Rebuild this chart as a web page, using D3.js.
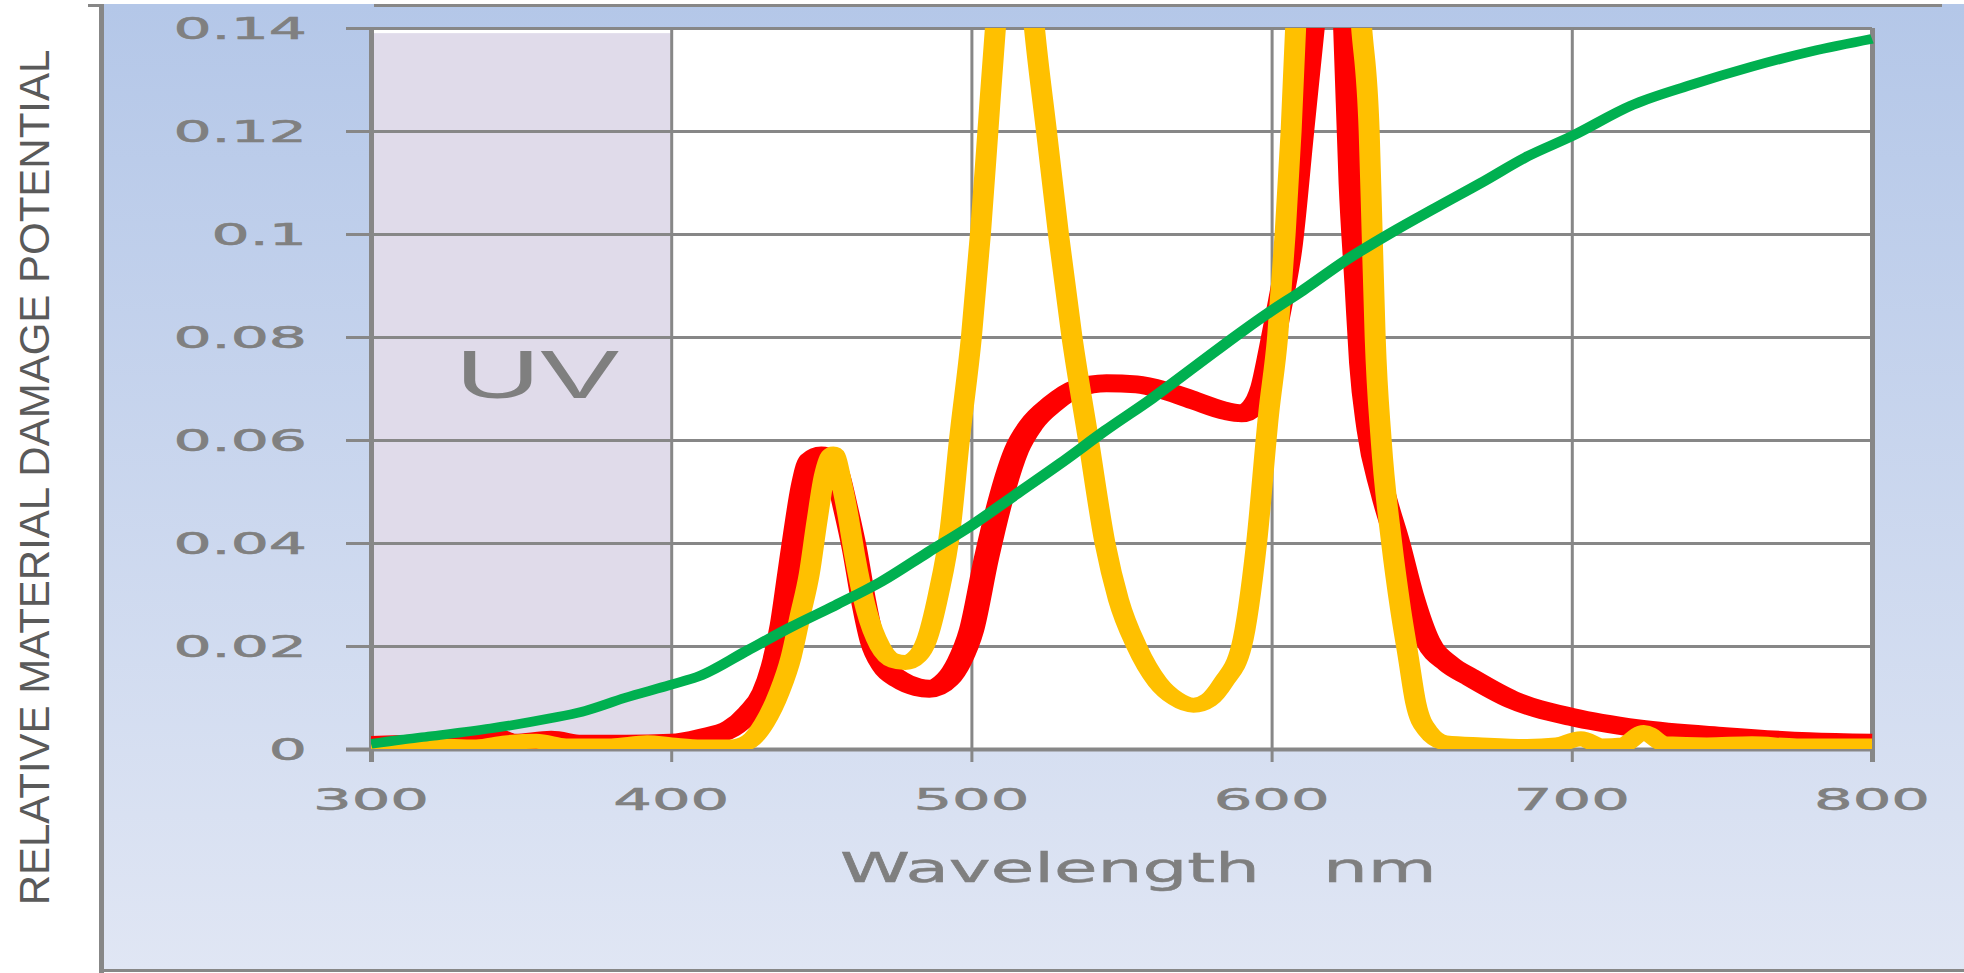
<!DOCTYPE html>
<html>
<head>
<meta charset="utf-8">
<script src="https://cdn.jsdelivr.net/npm/d3@7"></script>
<style>
  html, body { margin: 0; padding: 0; background: #ffffff; }
  svg { display: block; }
</style>
</head>
<body>
<svg id="chart"></svg>
<script>
/* CONSTANTS AND GLOBALS */
const width = 1964,
  height = 973,
  margin = { top: 28, bottom: 224, left: 371, right: 92 };
const plotW = width - margin.left - margin.right,
  plotH = height - margin.top - margin.bottom;

// the source picture is stretched sideways, so text and strokes get an x scale
const textStretch = 1.96,
  lineStretch = 1.4;

//////////////
/// DATA  ///
//////////////

const xTicks = [300, 400, 500, 600, 700, 800];
const yTicks = [0, 0.02, 0.04, 0.06, 0.08, 0.1, 0.12, 0.14];
const yTickLabels = ["0", "0.02", "0.04", "0.06", "0.08", "0.1", "0.12", "0.14"];
const uvBand = [300, 400];
const uvTop = 0.139;
const yTitle = "RELATIVE MATERIAL DAMAGE POTENTIAL";
const xTitle = ["Wavelength", "nm"];

// [wavelength nm, relative damage]
const redCurve = [
  [300, 0.0008], [315, 0.001], [330, 0.0012], [340, 0.0025], [348, 0.0012], [360, 0.0018],
  [370, 0.001], [385, 0.001], [400, 0.0012], [410, 0.0022], [420, 0.004], [426, 0.007],
  [431, 0.011], [434, 0.016], [437, 0.024], [439.5, 0.034], [441.5, 0.042], [444, 0.051],
  [446.5, 0.056], [450, 0.057], [453, 0.0565], [455.5, 0.053], [458, 0.047], [461, 0.039],
  [464, 0.029], [467, 0.021], [471, 0.016], [476, 0.0135], [482, 0.012], [486, 0.0117],
  [492, 0.0135], [496, 0.017], [500, 0.023], [505, 0.037], [510, 0.049], [515, 0.058],
  [520, 0.063], [527, 0.067], [535, 0.07], [545, 0.071], [555, 0.0708], [565, 0.0695],
  [575, 0.0675], [585, 0.0656], [590, 0.0652], [594, 0.0665], [597, 0.07], [600, 0.078],
  [603, 0.087], [606, 0.097], [610, 0.12], [613.5, 0.14], [620, 0.175], [624.7, 0.14],
  [626.5, 0.11], [628.5, 0.09], [630, 0.075], [632.5, 0.062], [637, 0.05], [642, 0.04],
  [646.5, 0.03], [652, 0.021], [659, 0.0165], [666, 0.014], [680, 0.0096], [700, 0.0062],
  [722, 0.004], [751, 0.0025], [779, 0.0015], [800, 0.0012]
];

const yellowCurve = [
  [300, 0.0004], [320, 0.0006], [335, 0.0004], [345, 0.0012], [355, 0.0015], [365, 0.0006],
  [380, 0.0006], [392, 0.0012], [400, 0.0008], [410, 0.0004], [420, 0.0004], [426, 0.0015],
  [431, 0.005], [436, 0.011], [440, 0.018], [443, 0.026], [446, 0.034], [448.5, 0.044],
  [451, 0.053], [454, 0.0573], [457, 0.051], [459, 0.045], [461, 0.038], [465, 0.027],
  [469.5, 0.02], [474, 0.0172], [478, 0.0168], [482, 0.018], [485, 0.021], [489, 0.03],
  [493, 0.043], [496, 0.06], [500, 0.08], [503, 0.1], [505.5, 0.12], [508, 0.14],
  [512, 0.16], [515, 0.165], [518, 0.16], [521, 0.14], [525, 0.12], [529, 0.1],
  [533.5, 0.08], [539, 0.06], [544.5, 0.04], [549, 0.029], [555, 0.02], [562, 0.013],
  [568, 0.0098], [574, 0.0085], [579, 0.0095], [584, 0.013], [590, 0.02], [595, 0.04],
  [599, 0.065], [602, 0.08], [604.5, 0.1], [606.5, 0.12], [608, 0.14], [614, 0.175],
  [619, 0.185], [625, 0.175], [630, 0.14], [632.5, 0.12], [633.5, 0.1], [634.5, 0.08],
  [636.5, 0.06], [640, 0.04], [643, 0.027], [645.5, 0.018], [648, 0.009], [652, 0.0035],
  [658, 0.0012], [670, 0.0008], [685, 0.0005], [695, 0.0008], [703, 0.002], [710, 0.0006],
  [717, 0.0008], [724, 0.0032], [731, 0.001], [745, 0.0008], [760, 0.001], [775, 0.0006],
  [800, 0.0006]
];

const greenCurve = [
  [300, 0.001], [310, 0.0018], [320, 0.0025], [340, 0.004], [360, 0.006], [370, 0.0072],
  [385, 0.01], [400, 0.0125], [410, 0.0143], [425, 0.019], [440, 0.0237], [455, 0.028],
  [470, 0.0325], [485, 0.038], [500, 0.0434], [515, 0.0495], [530, 0.0556], [545, 0.062],
  [560, 0.068], [575, 0.0745], [590, 0.081], [600, 0.0851], [610, 0.0889], [625, 0.095],
  [640, 0.1003], [655, 0.1052], [670, 0.11], [685, 0.115], [700, 0.119], [720, 0.125],
  [740, 0.129], [760, 0.1325], [780, 0.1355], [800, 0.1379]
];

// drawing order: red under yellow, green on top
const series = [
  { name: "red", values: redCurve, color: "#ff0000", stroke: 18 },
  { name: "yellow", values: yellowCurve, color: "#ffc000", stroke: 15 },
  { name: "green", values: greenCurve, color: "#00b050", stroke: 9.5 }
];

/////////////
/// SVG  ///
/////////////

const svg = d3.select("#chart")
  .attr("width", width)
  .attr("height", height);

const x = d3.scaleLinear()
  .domain([300, 800])
  .range([margin.left, width - margin.right]);

// same x scale but in the stretched line group's units
const xLine = d3.scaleLinear()
  .domain([300, 800])
  .range([0, plotW / lineStretch]);

const y = d3.scaleLinear()
  .domain([0, 0.14])
  .range([height - margin.bottom, margin.top]);

const defs = svg.append("defs");

// blue chart-area fill, darker at the top
const grad = defs.append("linearGradient")
  .attr("id", "bg")
  .attr("x1", 0).attr("y1", 0)
  .attr("x2", 0).attr("y2", 1);
grad.append("stop").attr("offset", "0%").attr("stop-color", "#b4c7e8");
grad.append("stop").attr("offset", "100%").attr("stop-color", "#e0e6f4");

defs.append("clipPath")
  .attr("id", "plot-clip")
  .append("rect")
  .attr("x", margin.left)
  .attr("y", margin.top)
  .attr("width", plotW + 3)
  .attr("height", plotH);

// chart area + frame
svg.append("rect")
  .attr("x", 101)
  .attr("y", 4)
  .attr("width", width - 101)
  .attr("height", 966)
  .attr("fill", "url(#bg)");

const frameColor = "#878787";
svg.append("line") // left
  .attr("x1", 101.5).attr("x2", 101.5)
  .attr("y1", 4).attr("y2", height)
  .attr("stroke", frameColor).attr("stroke-width", 5);
svg.append("line") // bottom
  .attr("x1", 99).attr("x2", width)
  .attr("y1", 970.5).attr("y2", 970.5)
  .attr("stroke", frameColor).attr("stroke-width", 3);
svg.append("line") // little bit of the top edge at the corner
  .attr("x1", 88).attr("x2", 104)
  .attr("y1", 5.5).attr("y2", 5.5)
  .attr("stroke", frameColor).attr("stroke-width", 3);
svg.append("line") // top edge
  .attr("x1", 374).attr("x2", 1942)
  .attr("y1", 5.5).attr("y2", 5.5)
  .attr("stroke", frameColor).attr("stroke-width", 3);

// plot background
svg.append("rect")
  .attr("x", margin.left)
  .attr("y", margin.top)
  .attr("width", plotW)
  .attr("height", plotH)
  .attr("fill", "#ffffff");

// UV band
svg.append("rect")
  .attr("x", x(uvBand[0]) + 2)
  .attr("y", y(uvTop))
  .attr("width", x(uvBand[1]) - x(uvBand[0]) - 2)
  .attr("height", y(0) - y(uvTop))
  .attr("fill", "#e0dbea");

svg.append("text")
  .attr("transform", `translate(${(x(uvBand[0]) + x(uvBand[1])) / 2 + 16},398) scale(1.74,1)`)
  .attr("text-anchor", "middle")
  .attr("font-family", "'Liberation Sans', Arial, sans-serif")
  .attr("font-size", 68)
  .attr("fill", "#7f7f7f")
  .text("UV");

/////////////////
/// GRIDLINES ///
/////////////////

// horizontal grid, with the little tick poking out to the left
svg.append("g")
  .attr("transform", `translate(${margin.left},0)`)
  .call(d3.axisLeft(y).tickValues(yTicks).tickSize(-plotW).tickSizeOuter(0).tickFormat(""))
  .call(g => g.select(".domain").remove())
  .call(g => g.selectAll(".tick line")
    .attr("x1", -25)
    .attr("stroke", frameColor)
    .attr("stroke-width", d => d === 0 ? 4 : 3));

// vertical grid, ticks hanging below the x axis
svg.append("g")
  .attr("transform", `translate(0,${height - margin.bottom})`)
  .call(d3.axisBottom(x).tickValues(xTicks).tickSize(-plotH).tickSizeOuter(0).tickFormat(""))
  .call(g => g.select(".domain").remove())
  .call(g => g.selectAll(".tick line")
    .attr("y1", 13)
    .attr("stroke", frameColor)
    .attr("stroke-width", d => (d === 300 || d === 800) ? 5 : 3));

/////////////
/// LINES ///
/////////////

const line = d3.line()
  .x(d => xLine(d[0]))
  .y(d => y(d[1]))
  .curve(d3.curveMonotoneX);

svg.append("g")
  .attr("clip-path", "url(#plot-clip)")
  .append("g")
  .attr("transform", `translate(${margin.left},0) scale(${lineStretch},1)`)
  .selectAll("path")
  .data(series)
  .join("path")
  .attr("d", d => line(d.values))
  .attr("fill", "none")
  .attr("stroke", d => d.color)
  .attr("stroke-width", d => d.stroke)
  .attr("stroke-linejoin", "round")
  .attr("stroke-linecap", "butt");

//////////////
/// LABELS ///
//////////////

svg.append("g")
  .selectAll("text")
  .data(yTicks)
  .join("text")
  .attr("transform", d => `translate(307,${y(d)}) scale(2,1)`)
  .attr("dy", "0.36em")
  .attr("text-anchor", "end")
  .attr("font-family", "'DejaVu Sans', Verdana, sans-serif")
  .attr("font-size", 30)
  .attr("fill", "#808080")
  .attr("stroke", "#808080")
  .attr("stroke-width", 0.6)
  .text((d, i) => yTickLabels[i]);

svg.append("g")
  .selectAll("text")
  .data(xTicks)
  .join("text")
  .attr("transform", d => `translate(${x(d)},810) scale(${textStretch},1)`)
  .attr("text-anchor", "middle")
  .attr("font-family", "'DejaVu Sans', Verdana, sans-serif")
  .attr("font-size", 31)
  .attr("fill", "#808080")
  .attr("stroke", "#808080")
  .attr("stroke-width", 0.6)
  .text(d => d);

svg.append("text")
  .attr("transform", "translate(840,882) scale(1.77,1)")
  .attr("font-family", "'DejaVu Sans', Verdana, sans-serif")
  .attr("font-size", 40)
  .attr("fill", "#7f7f7f")
  .attr("stroke", "#7f7f7f")
  .attr("stroke-width", 0.5)
  .text(xTitle[0]);

svg.append("text")
  .attr("transform", "translate(1323,882) scale(1.77,1)")
  .attr("font-family", "'DejaVu Sans', Verdana, sans-serif")
  .attr("font-size", 40)
  .attr("fill", "#7f7f7f")
  .attr("stroke", "#7f7f7f")
  .attr("stroke-width", 0.5)
  .text(xTitle[1]);

svg.append("text")
  .attr("transform", "translate(49,477.5) rotate(-90)")
  .attr("text-anchor", "middle")
  .attr("font-family", "'Liberation Sans', Arial, sans-serif")
  .attr("font-size", 42)
  .attr("fill", "#5a5a5a")
  .text(yTitle);
</script>
</body>
</html>
